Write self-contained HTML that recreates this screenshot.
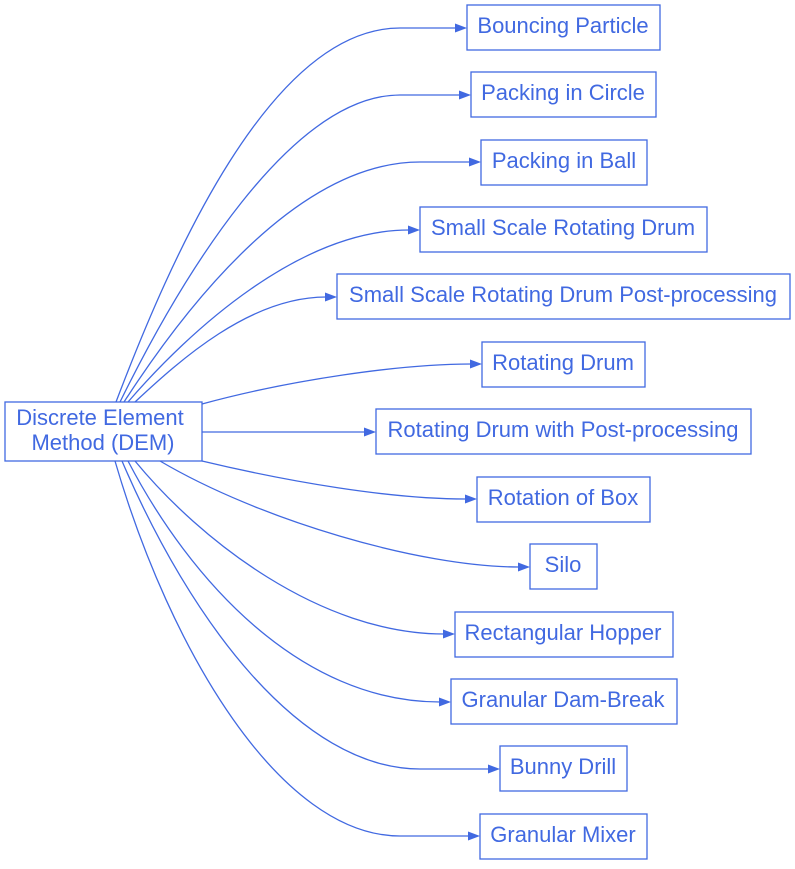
<!DOCTYPE html>
<html><head><meta charset="utf-8"><style>
html,body{margin:0;padding:0;background:#fff;}
svg text{font-family:"Liberation Sans",Arial,sans-serif;font-size:22px;fill:#4169E1;text-anchor:middle;}
</style></head><body>
<svg width="795" height="864" viewBox="0 0 795 864" xmlns="http://www.w3.org/2000/svg">
<g fill="none" stroke="#4169E1" stroke-width="1.3">
<rect x="5" y="402" width="197" height="59"/>
<rect x="467" y="5" width="193" height="45"/>
<rect x="471" y="72" width="185" height="45"/>
<rect x="481" y="140" width="166" height="45"/>
<rect x="420" y="207" width="287" height="45"/>
<rect x="337" y="274" width="453" height="45"/>
<rect x="482" y="342" width="163" height="45"/>
<rect x="376" y="409" width="375" height="45"/>
<rect x="477" y="477" width="173" height="45"/>
<rect x="530" y="544" width="67" height="45"/>
<rect x="455" y="612" width="218" height="45"/>
<rect x="451" y="679" width="226" height="45"/>
<rect x="500" y="746" width="127" height="45"/>
<rect x="480" y="814" width="167" height="45"/>
<path d="M116,402 C170,260 270,28 400,28 L456,28"/>
<path d="M120,402 C180,280 290,95 400,95 L460,95"/>
<path d="M124,402 C190,300 300,162 420,162 L470,162"/>
<path d="M128,402 C190,330 300,230 409,230"/>
<path d="M135,402 C180,360 250,297 326,297"/>
<path d="M202,404 C290,380 400,364 471,364"/>
<path d="M202,432 L365,432"/>
<path d="M202,461 C290,482 390,499 466,499"/>
<path d="M160,461 C260,520 420,567 519,567"/>
<path d="M135,461 C200,540 320,634 444,634"/>
<path d="M128,461 C190,580 300,702 440,702"/>
<path d="M122,461 C190,620 300,769 420,769 L489,769"/>
<path d="M115,461 C170,650 280,836 400,836 L469,836"/>
</g>
<g fill="#4169E1">
<polygon points="467,28 455,23.5 455,32.5"/>
<polygon points="471,95 459,90.5 459,99.5"/>
<polygon points="481,162 469,157.5 469,166.5"/>
<polygon points="420,230 408,225.5 408,234.5"/>
<polygon points="337,297 325,292.5 325,301.5"/>
<polygon points="482,364 470,359.5 470,368.5"/>
<polygon points="376,432 364,427.5 364,436.5"/>
<polygon points="477,499 465,494.5 465,503.5"/>
<polygon points="530,567 518,562.5 518,571.5"/>
<polygon points="455,634 443,629.5 443,638.5"/>
<polygon points="451,702 439,697.5 439,706.5"/>
<polygon points="500,769 488,764.5 488,773.5"/>
<polygon points="480,836 468,831.5 468,840.5"/>
</g>
<text x="100" y="425">Discrete Element</text>
<text x="103" y="450">Method (DEM)</text>
<text x="563" y="33">Bouncing Particle</text>
<text x="563" y="100">Packing in Circle</text>
<text x="564" y="168">Packing in Ball</text>
<text x="563" y="235">Small Scale Rotating Drum</text>
<text x="563" y="302">Small Scale Rotating Drum Post-processing</text>
<text x="563" y="370">Rotating Drum</text>
<text x="563" y="437">Rotating Drum with Post-processing</text>
<text x="563" y="505">Rotation of Box</text>
<text x="563" y="572">Silo</text>
<text x="563" y="640">Rectangular Hopper</text>
<text x="563" y="707">Granular Dam-Break</text>
<text x="563" y="774">Bunny Drill</text>
<text x="563" y="842">Granular Mixer</text>
</svg>
</body></html>
